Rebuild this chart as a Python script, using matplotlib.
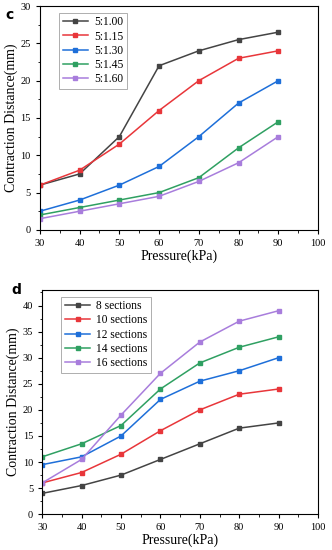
import numpy as np
import matplotlib.pyplot as plt
from matplotlib.ticker import MultipleLocator

plt.rcParams['font.family'] = ['Liberation Serif', 'Noto Sans CJK SC', 'DejaVu Sans']

pressure = [30, 40, 50, 60, 70, 80, 90]

# panel c: ratio
ratio_labels = ['5:1.00', '5:1.15', '5:1.30', '5:1.45', '5:1.60']
r100 = [6, 7.5, 12.5, 22, 24, 25.5, 26.5]
r115 = [6, 8, 11.5, 16, 20, 23, 24]
r130 = [2.5, 4, 6, 8.5, 12.5, 17, 20]
r145 = [2, 3, 4, 5, 7, 11, 14.5]
r160 = [1.5, 2.5, 3.5, 4.5, 6.5, 9, 12.5]

# panel d: sections
sec_labels = ['8 sections', '10 sections', '12 sections', '14 sections', '16 sections']
s8 = [4, 5.5, 7.5, 10.5, 13.5, 16.5, 17.5]
s10 = [6, 8, 11.5, 16, 20, 23, 24]
s12 = [9.5, 11, 15, 22, 25.5, 27.5, 30]
s14 = [11, 13.5, 17, 24, 29, 32, 34]
s16 = [6, 10.5, 19, 27, 33, 37, 39]

colors = ['#444444', '#e8363a', '#1e6fd9', '#2fa062', '#a87ddc']


def draw(ax, series, labels, ymax, yminor):
    for vals, lab, c in zip(series, labels, colors):
        ax.plot(pressure, vals, color=c, lw=1.1, marker='s', ms=3.2, label=lab)
    ax.set_xlim(30, 100)
    ax.set_ylim(0, ymax)
    ax.xaxis.set_major_locator(MultipleLocator(10))
    ax.xaxis.set_minor_locator(MultipleLocator(5))
    ax.yaxis.set_major_locator(MultipleLocator(5))
    ax.yaxis.set_minor_locator(MultipleLocator(yminor))
    ax.tick_params(which='major', direction='out', length=3, width=0.8, labelsize=7.5)
    ax.tick_params(which='minor', direction='out', length=1.8, width=0.6)
    ax.set_xlabel('Pressure(kPa)', fontsize=10, labelpad=1)
    ax.set_ylabel('Contraction Distance(mm)', fontsize=10, labelpad=2)
    for s in ax.spines.values():
        s.set_linewidth(0.8)
    leg = ax.legend(loc='upper left', bbox_to_anchor=(0.07, 0.97), fontsize=8.3,
                    frameon=True, fancybox=False, borderpad=0.3, labelspacing=0.2,
                    handlelength=2.2, handletextpad=0.5, borderaxespad=0)
    leg.get_frame().set_edgecolor('#999999')
    leg.get_frame().set_linewidth(0.7)


fig = plt.figure(figsize=(3.32, 5.5), dpi=100)
ax1 = fig.add_axes([0.120, 0.582, 0.838, 0.407])
ax2 = fig.add_axes([0.127, 0.065, 0.831, 0.408])

draw(ax1, [r100, r115, r130, r145, r160], ratio_labels, 30, 2.5)
draw(ax2, [s8, s10, s12, s14, s16], sec_labels, 43, 2.5)

fig.text(0.015, 0.985, 'c', fontsize=10, fontweight='bold', family='DejaVu Sans', va='top')
fig.text(0.035, 0.485, 'd', fontsize=10, fontweight='bold', family='DejaVu Sans', va='top')

fig.savefig('out.png', dpi=100)
